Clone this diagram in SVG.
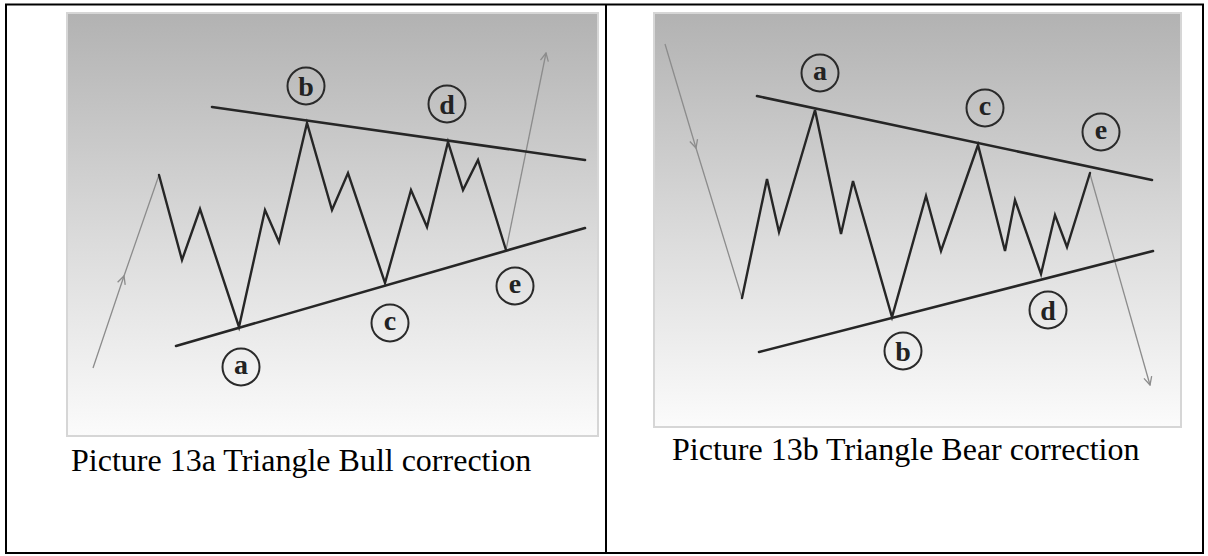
<svg xmlns="http://www.w3.org/2000/svg" width="1208" height="556" viewBox="0 0 1208 556">
<style>
.frame{fill:none;stroke:#000;stroke-width:2}
.panel{stroke:#d6d6d6;stroke-width:2}
.wave{fill:none;stroke:#262626;stroke-width:2.4;stroke-linejoin:miter;stroke-linecap:round}
.trend{fill:none;stroke:#262626;stroke-width:2.6;stroke-linecap:round}
.thin{fill:none;stroke:#8c8c8c;stroke-width:1.3}
.ring{fill:none;stroke:#2a2a2a;stroke-width:2}
.lbl{font-family:"Liberation Serif",serif;font-weight:bold;font-size:28px;fill:#222;text-anchor:middle}
.cap{font-family:"Liberation Serif",serif;font-size:32px;fill:#000}
</style>
<defs>
<linearGradient id="bg" x1="0" y1="0" x2="0" y2="1">
<stop offset="0" stop-color="#b2b2b2"/>
<stop offset="0.55" stop-color="#dcdcdc"/>
<stop offset="1" stop-color="#fbfbfb"/>
</linearGradient>
<marker id="chev" viewBox="0 0 10 10" refX="9" refY="5" markerWidth="10" markerHeight="10" markerUnits="userSpaceOnUse" orient="auto">
<path d="M1,1 L9,5 L1,9" fill="none" stroke="#8c8c8c" stroke-width="1.3"/>
</marker>
</defs>
<rect class="frame" x="6" y="4.5" width="1197" height="548.5"/>
<line x1="606" y1="4.5" x2="606" y2="553" stroke="#000" stroke-width="2"/>

<g id="panel-left">
<rect class="panel" x="67" y="13" width="531" height="423" fill="url(#bg)"/>
</g>
<g id="panel-right">
<rect class="panel" x="654" y="13" width="527" height="414" fill="url(#bg)"/>
</g>

<g id="connectors">
<path class="thin" d="M93,368 L124,276 L159,175" marker-mid="url(#chev)"/>
<path class="thin" d="M506,250 L546,53" marker-end="url(#chev)"/>
<polyline class="wave" points="159,175 182,260 200,209 239,327 265,210 279,242 307,123 332,210 348,173 385,283 411,190 427,227 448,142 463,190 478,160 506,250"/>
<line class="trend" x1="212" y1="107" x2="585" y2="160"/>
<line class="trend" x1="176" y1="346" x2="585" y2="228"/>
<path class="thin" d="M665,44 L696,148 L742,298" marker-mid="url(#chev)"/>
<path class="thin" d="M1090,174 L1150,385" marker-end="url(#chev)"/>
<polyline class="wave" points="742,298 767,179 779,232 815,110 841,234 853,181 892,317 926,196 941,251 978,145 1005,251 1015,200 1041,274 1055,215 1067,247 1090,173"/>
<line class="trend" x1="757" y1="96" x2="1152" y2="180"/>
<line class="trend" x1="759" y1="352" x2="1153" y2="251"/>
</g>

<g id="left-a"><circle class="ring" cx="241" cy="367" r="18.5"/><text class="lbl" x="241" y="374">a</text></g>
<g id="left-b"><circle class="ring" cx="306" cy="86" r="18.5"/><text class="lbl" x="306" y="96">b</text></g>
<g id="left-c"><circle class="ring" cx="390" cy="323" r="18.5"/><text class="lbl" x="390" y="330">c</text></g>
<g id="left-d"><circle class="ring" cx="447" cy="104" r="18.5"/><text class="lbl" x="447" y="114">d</text></g>
<g id="left-e"><circle class="ring" cx="515" cy="286" r="18.5"/><text class="lbl" x="515" y="293">e</text></g>

<g id="right-a"><circle class="ring" cx="820" cy="73" r="18.5"/><text class="lbl" x="820" y="80">a</text></g>
<g id="right-b"><circle class="ring" cx="903" cy="351" r="18.5"/><text class="lbl" x="903" y="361">b</text></g>
<g id="right-c"><circle class="ring" cx="985" cy="108" r="18.5"/><text class="lbl" x="985" y="115">c</text></g>
<g id="right-d"><circle class="ring" cx="1048" cy="310" r="18.5"/><text class="lbl" x="1048" y="320">d</text></g>
<g id="right-e"><circle class="ring" cx="1101" cy="132" r="18.5"/><text class="lbl" x="1101" y="139">e</text></g>

<g id="caption-left"><text class="cap" x="71" y="471">Picture 13a Triangle Bull correction</text></g>
<g id="caption-right"><text class="cap" x="672" y="460">Picture 13b Triangle Bear correction</text></g>
</svg>
